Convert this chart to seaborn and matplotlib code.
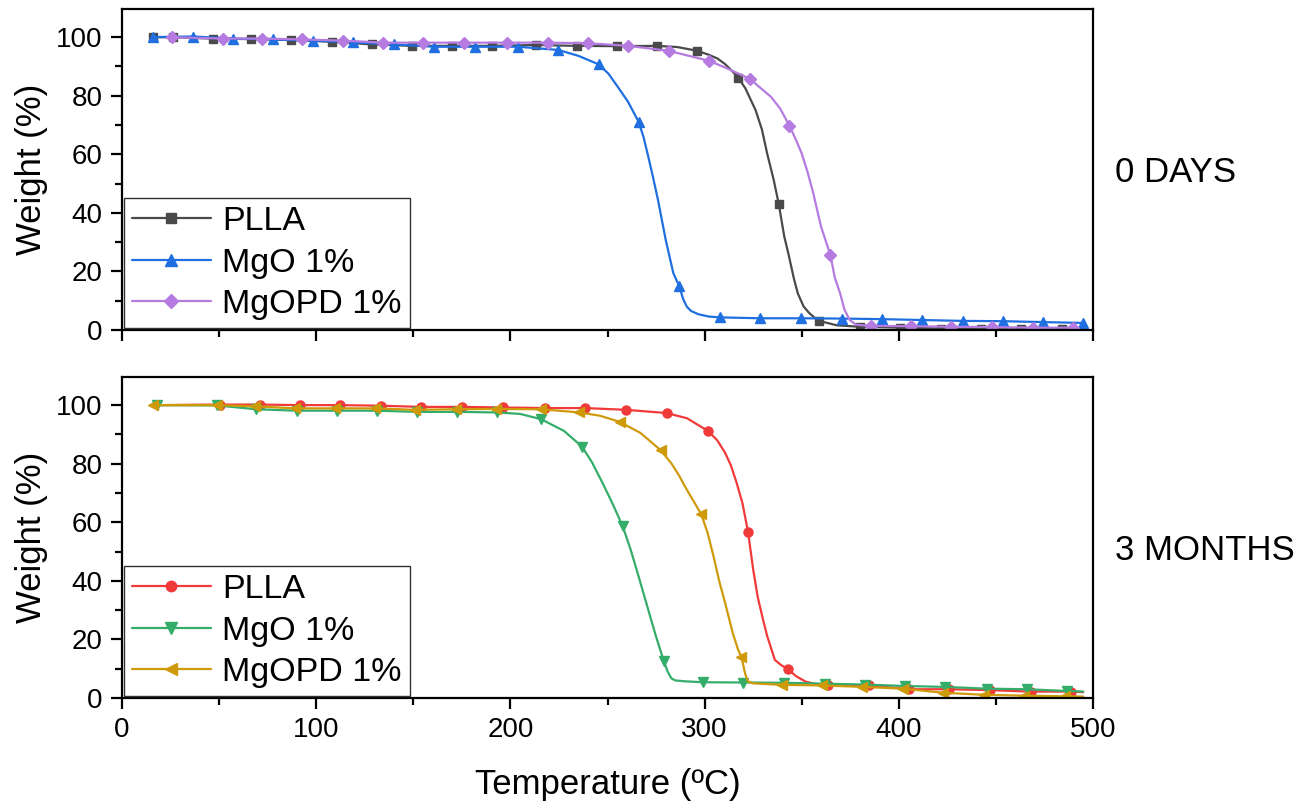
import numpy as np
import pandas as pd
import matplotlib
matplotlib.use("Agg")
import matplotlib.pyplot as plt
from matplotlib.lines import Line2D
from matplotlib.ticker import MultipleLocator
import seaborn as sns

# ---- TGA data: temperature (ºC) vs residual weight (%) ----
series_names = ["PLLA", "MgO 1%", "MgOPD 1%"]
panel_titles = ["0 DAYS", "3 MONTHS"]

# 0 days - marked readings
d0_plla_T = [16, 26, 46.7, 66.3, 86.9, 108, 128.6, 149.5, 170.1, 190.7, 213.2, 234.2, 254.7, 275.6,
             296.3, 317.3, 338.2, 359.1, 380, 400.8, 421.5, 442.4, 463.1, 484.3]
d0_plla_W = [100.0, 99.9, 99.5, 99.3, 99.0, 98.4, 97.5, 97.0, 97.0, 97.0, 97.3, 97.0, 96.9, 97.0,
             95.3, 86.2, 43.0, 3.1, 1.1, 0.8, 0.5, 0.3, 0.2, 0.2]
# 0 days - intermediate curve readings
d0_plla_Tc = [286, 302, 306.6, 310.5, 314.5, 321, 326.3, 329.5, 332.2, 335.5, 341, 343.1, 346, 348, 351, 354, 357, 368, 495]
d0_plla_Wc = [96.6, 94.0, 92.7, 90.8, 88.2, 82.5, 75.0, 68.5, 60.3, 51.5, 32.0, 26.2, 17.5, 12.5, 8.0, 5.7, 4.0, 1.6, 0.2]

d0_mgo_T = [16, 36.7, 57, 77.6, 98.2, 119.1, 139.9, 160.8, 181.7, 204, 224.7, 245.4, 266, 286.9,
            308, 328.7, 349.6, 370.6, 391.3, 412.2, 433, 453.7, 474.4, 495.1]
d0_mgo_W = [100.0, 100.2, 99.5, 99.2, 98.8, 98.2, 97.5, 96.7, 96.7, 96.7, 95.6, 90.7, 71.1, 15.0,
            4.3, 4.0, 4.0, 3.9, 3.7, 3.4, 3.1, 3.0, 2.7, 2.4]
d0_mgo_Tc = [235, 250.5, 255.3, 260.5, 268.5, 271, 273.5, 276, 280, 283.9, 289, 290.8, 293, 296.7, 302]
d0_mgo_Wc = [93.6, 87.5, 83.0, 78.0, 66.0, 59.2, 52.0, 44.4, 30.7, 19.4, 10.5, 8.0, 6.5, 5.4, 4.6]

d0_mgopd_T = [25.9, 51.8, 72.2, 92.8, 113.9, 134.5, 155.2, 176.1, 198, 219.3, 240.1, 260.8, 281.5,
              302.3, 323.4, 343.7, 364.8, 385.6, 406.5, 427, 448.1, 469, 489.8]
d0_mgopd_W = [99.9, 99.5, 99.5, 99.2, 98.8, 98.1, 98.1, 98.1, 98.1, 98.1, 97.9, 97.0, 95.3,
              91.9, 85.7, 69.7, 25.6, 1.4, 1.3, 1.1, 1.0, 0.8, 0.8]
d0_mgopd_Tc = [312, 329, 334.2, 339, 347, 350, 353, 356, 360, 367, 369.8, 372, 374.7, 378]
d0_mgopd_Wc = [89.2, 82.5, 79.6, 75.5, 65.0, 60.3, 54.0, 46.6, 35.2, 18.0, 12.5, 7.0, 3.4, 1.8]

# 3 months - marked readings
m3_plla_T = [50.5, 71, 91.7, 112.3, 133.2, 153.8, 174.9, 196, 217.8, 238.5, 259.6, 280.5, 301.7,
             322.4, 343.1, 363.4, 384.6, 405.3, 426, 446.8, 467.9, 488.6]
m3_plla_W = [100.2, 100.2, 100.0, 100.0, 99.8, 99.4, 99.4, 99.2, 99.0, 99.0, 98.4, 97.3, 91.2,
             56.6, 9.8, 4.5, 4.3, 3.0, 3.0, 2.7, 2.2, 2.2]
m3_plla_Tc = [17, 291, 306.5, 310.5, 313.5, 316.5, 319.5, 325, 327.3, 330, 332.3, 336.2, 339.5, 347, 352, 357, 495]
m3_plla_Wc = [100.0, 95.5, 88.0, 83.8, 79.5, 73.5, 66.5, 44.0, 34.7, 27.0, 21.0, 13.0, 11.2, 7.5, 5.6, 4.8, 2.0]

m3_mgo_T = [17.9, 48.8, 69, 90, 110.5, 131.1, 152.1, 172.7, 193.2, 215.8, 236.9, 257.8, 278.9,
            299.1, 320, 341.1, 361.9, 382.6, 403.3, 424, 445.2, 465.9, 486.6]
m3_mgo_W = [100.0, 99.9, 98.6, 98.1, 98.1, 98.1, 97.7, 97.7, 97.5, 95.2, 85.8, 58.7, 12.8,
            5.4, 5.3, 5.2, 4.9, 4.6, 4.1, 3.8, 3.2, 3.0, 2.4]
m3_mgo_Tc = [205, 227.6, 242, 247.4, 252.5, 262, 265, 268, 271, 275, 281, 282.9, 285, 290, 495]
m3_mgo_Wc = [97.0, 91.2, 80.5, 73.5, 66.5, 50.5, 43.8, 37.0, 30.1, 21.0, 9.0, 6.7, 6.0, 5.7, 2.2]

m3_mgopd_T = [16.1, 48.8, 68.5, 89.1, 109.7, 130.3, 150.9, 172, 192.6, 215.8, 235.5, 256.3, 277.4,
              298.3, 319, 339.8, 360.5, 381.2, 402, 423, 443.8, 464.5, 485.6]
m3_mgopd_W = [100.0, 100.0, 99.6, 98.9, 98.9, 98.9, 98.4, 98.6, 98.7, 98.6, 97.5, 94.3, 84.6,
              62.7, 13.9, 4.5, 4.3, 3.8, 3.2, 1.8, 1.1, 0.8, 0.6]
m3_mgopd_Tc = [246, 267, 283, 287, 290.5, 294.8, 301.5, 304.6, 307.5, 310.6, 314.5, 317, 321, 322.4, 325, 495]
m3_mgopd_Wc = [96.4, 90.5, 80.0, 75.8, 71.5, 66.7, 56.5, 48.4, 40.0, 32.4, 22.2, 17.0, 8.0, 5.6, 5.0, 0.5]

panels = [
    [(d0_plla_T, d0_plla_W, d0_plla_Tc, d0_plla_Wc),
     (d0_mgo_T, d0_mgo_W, d0_mgo_Tc, d0_mgo_Wc),
     (d0_mgopd_T, d0_mgopd_W, d0_mgopd_Tc, d0_mgopd_Wc)],
    [(m3_plla_T, m3_plla_W, m3_plla_Tc, m3_plla_Wc),
     (m3_mgo_T, m3_mgo_W, m3_mgo_Tc, m3_mgo_Wc),
     (m3_mgopd_T, m3_mgopd_W, m3_mgopd_Tc, m3_mgopd_Wc)],
]

styles = [
    [("#4a4a4a", "s"), ("#1f6fe0", "^"), ("#b57be0", "D")],
    [("#f03a3a", "o"), ("#35ad6a", "v"), ("#cf9a0a", "<")],
]
marker_sizes = {"s": 6, "^": 7.5, "D": 6, "o": 6.5, "v": 7.5, "<": 7.5}

sns.set_theme(style="white")
plt.rcParams["font.family"] = ["Liberation Sans", "DejaVu Sans"]
plt.rcParams["axes.linewidth"] = 1.6
plt.rcParams["text.color"] = "black"
plt.rcParams["axes.labelcolor"] = "black"
plt.rcParams["xtick.color"] = "black"
plt.rcParams["ytick.color"] = "black"

fig = plt.figure(figsize=(13.08, 8.08), dpi=100)
ax_top = fig.add_axes([0.0933, 0.5916, 0.7423, 0.3973])
ax_bot = fig.add_axes([0.0933, 0.1361, 0.7423, 0.3973])

for ax, data, sty, title in zip([ax_top, ax_bot], panels, styles, panel_titles):
    handles = []
    for name, (T, W, Tc, Wc), (color, mk) in zip(series_names, data, sty):
        line_df = pd.DataFrame({"T": list(T) + list(Tc), "W": list(W) + list(Wc)}).sort_values("T")
        sns.lineplot(data=line_df, x="T", y="W", ax=ax, color=color, lw=1.6,
                     sort=True, estimator=None, legend=False)
        ax.plot(T, W, ls="none", marker=mk, ms=marker_sizes[mk], color=color, mec=color)
        handles.append(Line2D([0], [0], color=color, lw=1.6, marker=mk,
                              ms=marker_sizes[mk] + 1, mec=color))
    ax.set_xlim(0, 500)
    ax.set_ylim(0, 109.6)
    ax.xaxis.set_major_locator(MultipleLocator(100))
    ax.xaxis.set_minor_locator(MultipleLocator(50))
    ax.yaxis.set_major_locator(MultipleLocator(20))
    ax.yaxis.set_minor_locator(MultipleLocator(10))
    ax.tick_params(axis="both", which="major", direction="out", length=8, width=1.6, pad=6,
                   labelsize=20, labelcolor="black", bottom=True, left=True, top=False, right=False)
    ax.tick_params(axis="both", which="minor", direction="out", length=5, width=1.6,
                   bottom=True, left=True, top=False, right=False)
    for sp in ax.spines.values():
        sp.set_color("black")
        sp.set_linewidth(1.6)
    ax.set_ylabel("Weight (%)", fontsize=25, labelpad=6, color="black")
    ax.set_xlabel("")
    leg = ax.legend(handles, series_names, loc="lower left", fontsize=24.5, frameon=True,
                    fancybox=False, edgecolor="#333333", framealpha=1, borderaxespad=0.05,
                    handlelength=2.3, handletextpad=0.35, labelspacing=0.3, borderpad=0.25)
    leg.get_frame().set_linewidth(1.0)
    for t in leg.get_texts():
        t.set_color("black")
    ax.grid(False)

ax_top.tick_params(labelbottom=False)
ax_bot.set_xlabel("Temperature (ºC)", fontsize=25, labelpad=18, color="black")

fig.text(0.8525, 0.787, panel_titles[0], fontsize=25, va="center", ha="left", color="black")
fig.text(0.8525, 0.319, panel_titles[1], fontsize=25, va="center", ha="left", color="black")

fig.savefig("out.png", dpi=100, facecolor="white")
